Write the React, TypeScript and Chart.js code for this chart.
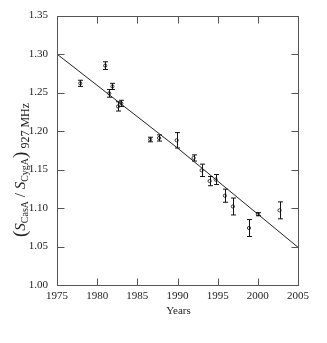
import React, { useEffect, useRef } from "react";
import { Chart, registerables } from "chart.js";

Chart.register(...registerables);

const years = [1977.9, 1981.0, 1981.5, 1981.9, 1982.6, 1983.0, 1986.6, 1987.7, 1989.9, 1992.0, 1993.0, 1994.0, 1994.75, 1995.9, 1996.9, 1998.9, 2000.0, 2002.7];
const ratios = [1.262, 1.285, 1.249, 1.258, 1.232, 1.236, 1.189, 1.191, 1.188, 1.165, 1.149, 1.135, 1.137, 1.116, 1.102, 1.074, 1.092, 1.097];
const errors = [0.004, 0.005, 0.005, 0.004, 0.006, 0.004, 0.003, 0.004, 0.010, 0.004, 0.008, 0.006, 0.0065, 0.0085, 0.011, 0.011, 0.002, 0.011];

const fitYears = [1975, 1990, 2000, 2005];
const fitValues = [1.300, 1.178, 1.092, 1.049];

const yTicks = [1.0, 1.05, 1.1, 1.15, 1.2, 1.25, 1.3, 1.35];
const xTicks = [1975, 1980, 1985, 1990, 1995, 2000, 2005];

const SERIF = "'Liberation Serif', 'DejaVu Serif', serif";

const framePlugin = {
  id: "frame",
  afterDatasetsDraw(chart: any) {
    const { ctx, chartArea: a, scales } = chart;
    const xs = scales.x;
    const ys = scales.y;
    ctx.save();
    // error bars
    ctx.strokeStyle = "#111";
    ctx.lineWidth = 1;
    for (let i = 0; i < years.length; i++) {
      const x = Math.round(xs.getPixelForValue(years[i])) + 0.5;
      const y1 = ys.getPixelForValue(ratios[i] + errors[i]);
      const y2 = ys.getPixelForValue(ratios[i] - errors[i]);
      ctx.beginPath();
      ctx.moveTo(x, y1);
      ctx.lineTo(x, y2);
      ctx.moveTo(x - 2.5, y1);
      ctx.lineTo(x + 2.5, y1);
      ctx.moveTo(x - 2.5, y2);
      ctx.lineTo(x + 2.5, y2);
      ctx.stroke();
    }
    // frame
    ctx.strokeStyle = "#555";
    ctx.lineWidth = 1;
    const l = Math.round(a.left) + 0.5;
    const r = Math.round(a.right) + 0.5;
    const t = Math.round(a.top) + 0.5;
    const b = Math.round(a.bottom) + 0.5;
    ctx.strokeRect(l, t, r - l, b - t);
    const tl = 7;
    ctx.beginPath();
    for (const v of xTicks.slice(1, -1)) {
      const x = Math.round(xs.getPixelForValue(v)) + 0.5;
      ctx.moveTo(x, b);
      ctx.lineTo(x, b - tl);
      ctx.moveTo(x, t);
      ctx.lineTo(x, t + tl);
    }
    for (const v of yTicks.slice(1, -1)) {
      const y = Math.round(ys.getPixelForValue(v)) + 0.5;
      ctx.moveTo(l, y);
      ctx.lineTo(l + tl, y);
      ctx.moveTo(r, y);
      ctx.lineTo(r - tl, y);
    }
    ctx.stroke();

    // x title
    ctx.fillStyle = "#222";
    ctx.font = `11px ${SERIF}`;
    ctx.textAlign = "center";
    ctx.textBaseline = "middle";
    ctx.fillText("Years", (a.left + a.right) / 2 + 1, 311);

    // y title (rotated, with subscripts)
    const pieces: [string, string, number][] = [
      ["(", `19px ${SERIF}`, 1],
      ["S", `italic 15px ${SERIF}`, 0],
      ["CasA", `10px ${SERIF}`, 3],
      [" / ", `15px ${SERIF}`, 0],
      ["S", `italic 15px ${SERIF}`, 0],
      ["CygA", `10px ${SERIF}`, 3],
      [")", `19px ${SERIF}`, 1],
      [" 927 MHz", `12px ${SERIF}`, 4],
    ];
    let total = 0;
    const widths: number[] = [];
    for (const [txt, f] of pieces) {
      ctx.font = f;
      const w = ctx.measureText(txt).width;
      widths.push(w);
      total += w;
    }
    ctx.translate(25, 170);
    ctx.rotate(-Math.PI / 2);
    ctx.textAlign = "left";
    ctx.textBaseline = "alphabetic";
    let cx = -total / 2;
    pieces.forEach(([txt, f, dy], i) => {
      ctx.font = f;
      ctx.fillText(txt, cx, dy);
      cx += widths[i];
    });
    ctx.restore();
  },
};

export default function App() {
  const ref = useRef<HTMLCanvasElement>(null);
  useEffect(() => {
    if (!ref.current) return;
    const chart = new Chart(ref.current, {
      type: "scatter",
      data: {
        datasets: [
          {
            type: "line",
            data: fitYears.map((x, i) => ({ x, y: fitValues[i] })),
            borderColor: "#222",
            borderWidth: 1,
            pointRadius: 0,
            fill: false,
            tension: 0,
          } as any,
          {
            data: years.map((x, i) => ({ x, y: ratios[i] })),
            pointRadius: 1.6,
            pointStyle: "circle",
            pointBackgroundColor: "#fff",
            pointBorderColor: "#333",
            pointBorderWidth: 1,
            showLine: false,
          },
        ],
      },
      options: {
        animation: false,
        responsive: true,
        maintainAspectRatio: false,
        layout: { padding: { top: 15, right: 29, left: 0, bottom: 0 } },
        plugins: { legend: { display: false }, tooltip: { enabled: false } },
        scales: {
          x: {
            type: "linear",
            min: 1975,
            max: 2005,
            grid: { display: false, drawTicks: false },
            border: { display: false },
            ticks: {
              stepSize: 5,
              padding: 5,
              color: "#222",
              font: { family: SERIF, size: 11 },
              callback: (v: any) => String(v),
              maxRotation: 0,
            },
            afterFit: (s: any) => {
              s.height = 58;
            },
          },
          y: {
            min: 1.0,
            max: 1.35,
            grid: { display: false, drawTicks: false },
            border: { display: false },
            ticks: {
              stepSize: 0.05,
              padding: 9,
              color: "#222",
              font: { family: SERIF, size: 11 },
              callback: (v: any) => Number(v).toFixed(2),
            },
            afterFit: (s: any) => {
              s.width = 57;
            },
          },
        },
      },
      plugins: [framePlugin],
    });
    return () => chart.destroy();
  }, []);
  return (
    <div style={{ position: "fixed", left: 0, top: 0, width: 327, height: 343, background: "#fff" }}>
      <canvas ref={ref} />
    </div>
  );
}
